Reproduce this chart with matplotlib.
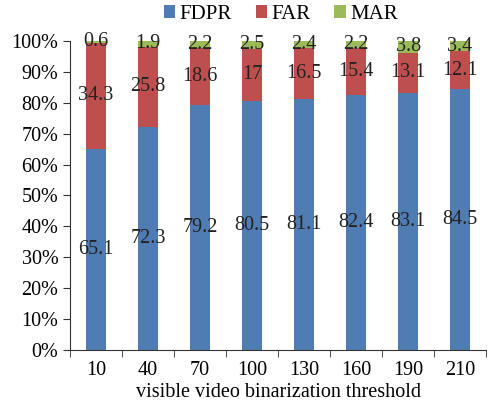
import matplotlib
matplotlib.use("Agg")
import matplotlib.pyplot as plt
import numpy as np
from matplotlib.ticker import FixedLocator

categories = ["10", "40", "70", "100", "130", "160", "190", "210"]
fdpr = [65.1, 72.3, 79.2, 80.5, 81.1, 82.4, 83.1, 84.5]
far = [34.3, 25.8, 18.6, 17, 16.5, 15.4, 13.1, 12.1]
mar = [0.6, 1.9, 2.2, 2.5, 2.4, 2.2, 3.8, 3.4]
far_labels = ["34.3", "25.8", "18.6", "17", "16.5", "15.4", "13.1", "12.1"]
fdpr_labels = ["65.1", "72.3", "79.2", "80.5", "81.1", "82.4", "83.1", "84.5"]
mar_labels = ["0.6", "1.9", "2.2", "2.5", "2.4", "2.2", "3.8", "3.4"]

plt.rcParams['font.family'] = ['Liberation Serif', 'DejaVu Serif']

fig = plt.figure(figsize=(4.9, 4.05), dpi=100)
ax = fig.add_axes([0.143, 0.136, 0.849, 0.763])

x = np.arange(len(categories))
w = 0.4
c_blue, c_red, c_green = "#4F7CB3", "#BE4F4F", "#9BBB59"
b1 = ax.bar(x, fdpr, w, color=c_blue, label="FDPR")
b2 = ax.bar(x, far, w, bottom=fdpr, color=c_red, label="FAR")
bot3 = np.array(fdpr) + np.array(far)
b3 = ax.bar(x, mar, w, bottom=bot3, color=c_green, label="MAR")

fs = 14.5
ax.bar_label(b1, labels=fdpr_labels, label_type="center", fontsize=fs, color="#222222")
ax.bar_label(b2, labels=far_labels, label_type="center", fontsize=fs, color="#222222")
for xi, b, m, lab in zip(x, bot3, mar, mar_labels):
    ax.text(xi, b + m / 2, lab, ha="center", va="center", fontsize=fs, color="#222222")

ax.set_xlim(-0.5, len(categories) - 0.5)
ax.set_ylim(0, 100)
ax.set_yticks(np.arange(0, 101, 10))
ax.set_yticklabels([f"{v}%" for v in range(0, 101, 10)], fontsize=14.5)
ax.set_xticks(x)
ax.set_xticklabels(categories, fontsize=14.5)
ax.xaxis.set_minor_locator(FixedLocator(np.arange(-0.5, len(categories), 1.0)))
ax.tick_params(axis="x", which="major", length=0, pad=8)
ax.tick_params(axis="x", which="minor", length=5, direction="out", color="#333333")
ax.tick_params(axis="y", length=5, direction="out", color="#333333")
for s in ["top", "right"]:
    ax.spines[s].set_visible(False)
for s in ["left", "bottom"]:
    ax.spines[s].set_color("#333333")
ax.set_xlabel("visible video binarization threshold", fontsize=14.5, labelpad=2)

fig.legend(handles=[b1, b2, b3], loc="center", bbox_to_anchor=(0.573, 0.965), ncol=3,
           frameon=False, fontsize=15, handlelength=0.55, handleheight=0.55,
           handletextpad=0.2, columnspacing=1.15)

fig.savefig("out.png", dpi=100)
